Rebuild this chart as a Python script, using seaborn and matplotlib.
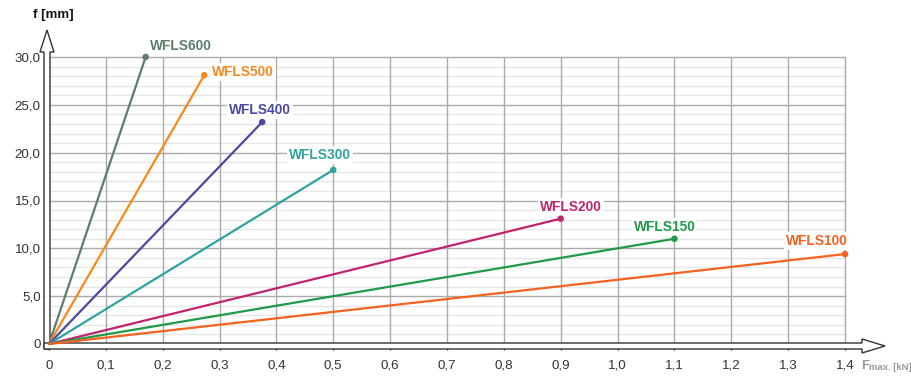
import matplotlib
matplotlib.use("Agg")
import matplotlib.pyplot as plt
import seaborn as sns
import pandas as pd
import numpy as np
from matplotlib.patches import Polygon
from matplotlib.transforms import IdentityTransform

# ---- data ----
series = ["WFLS600", "WFLS500", "WFLS400", "WFLS300", "WFLS200", "WFLS150", "WFLS100"]
fmax_kn = [0.17, 0.273, 0.375, 0.50, 0.90, 1.10, 1.40]
deflection_mm = [30.0, 28.1, 23.2, 18.2, 13.1, 11.0, 9.4]
colors = ["#5f7d6d", "#f7891f", "#4b4aa0", "#2fa39e", "#c1246f", "#1f9a48", "#f5621f"]
x_ticks = [0, 0.1, 0.2, 0.3, 0.4, 0.5, 0.6, 0.7, 0.8, 0.9, 1.0, 1.1, 1.2, 1.3, 1.4]
x_tick_labels = ["0", "0,1", "0,2", "0,3", "0,4", "0,5", "0,6", "0,7", "0,8", "0,9", "1,0", "1,1", "1,2", "1,3", "1,4"]
y_ticks = [0, 5, 10, 15, 20, 25, 30]
y_tick_labels = ["0", "5,0", "10,0", "15,0", "20,0", "25,0", "30,0"]
# label offsets (pixels) relative to end point
label_offsets = [(35, 11), (39, 3), (-2, 12), (-13, 15), (10, 12), (-10, 12), (-28, 13)]

rows = []
for s, x, y in zip(series, fmax_kn, deflection_mm):
    rows.append({"series": s, "F": 0.0, "f": 0.0})
    rows.append({"series": s, "F": x, "f": y})
df = pd.DataFrame(rows)
ends = pd.DataFrame({"series": series, "F": fmax_kn, "f": deflection_mm})
palette = dict(zip(series, colors))

sns.set_theme(style="white")
plt.rcParams["font.family"] = ["Liberation Sans", "DejaVu Sans"]

W, H = 912, 376
fig = plt.figure(figsize=(W / 100, H / 100), dpi=100)
ax = fig.add_axes([49 / W, 32 / H, 796 / W, 287 / H])

# grid
for yv in np.arange(1, 30, 1):
    if yv % 5:
        ax.axhline(yv, color="#e6e6e6", lw=1.0, zorder=0.5)
for yv in y_ticks[1:]:
    ax.axhline(yv, color="#ababab", lw=1.0, zorder=0.6)
for xv in x_ticks[1:]:
    ax.axvline(xv, color="#ababab", lw=1.0, zorder=0.6)

sns.lineplot(data=df, x="F", y="f", hue="series", palette=palette, ax=ax,
             legend=False, linewidth=1.6, zorder=3, estimator=None, sort=False)
sns.scatterplot(data=ends, x="F", y="f", hue="series", palette=palette, ax=ax,
                legend=False, s=22, linewidth=0, zorder=6, clip_on=False)

for line in ax.lines:
    line.set_clip_on(False)

for s, x, y, c, (dx, dy) in zip(series, fmax_kn, deflection_mm, colors, label_offsets):
    ax.annotate(s, (x, y), xytext=(dx, dy), textcoords="offset pixels",
                ha="center", va="center", color=c, fontsize=9.9, fontweight="bold",
                bbox=dict(boxstyle="square,pad=0.15", fc="white", ec="none"), zorder=5)

ax.set_xlim(0, 1.4)
ax.set_ylim(0, 30)
ax.set_xticks(x_ticks)
ax.set_xticklabels(x_tick_labels)
ax.set_yticks(y_ticks)
ax.set_yticklabels(y_tick_labels)
ax.tick_params(axis="x", length=4, width=1, color="#333333", pad=7.5, labelsize=9.6, labelcolor="#333333", direction="out", bottom=True)
ax.tick_params(axis="y", length=4, width=1, color="#333333", pad=2, labelsize=9.6, labelcolor="#333333", direction="out", left=True)
ax.set_xlabel("")
ax.set_ylabel("")
for sp in ax.spines.values():
    sp.set_visible(False)

# axis arrows (pixel coordinates, origin bottom-left)
def py(y):
    return H - y

ec = "#333333"
xarrow = [(44, py(343)), (862, py(343)), (862, py(339)), (885, py(346)),
          (862, py(353)), (862, py(349)), (44, py(349))]
yarrow = [(44, py(349)), (44, py(52)), (40, py(52)), (47, py(30)),
          (54, py(52)), (50, py(52)), (50, py(349))]
for pts in (yarrow, xarrow):
    ax.add_patch(Polygon(pts, closed=True, fc="white", ec=ec, lw=1.0,
                         transform=IdentityTransform(), clip_on=False, zorder=2))

fig.text(33 / W, py(15) / H, "f [mm]", fontsize=9.5, fontweight="bold", color="#111111", va="center", ha="left")
fig.text(861 / W, py(366) / H, "F", fontsize=9.5, fontweight="bold", color="#9a9a9a", va="center", ha="left")
fig.text(869 / W, py(367) / H, "max. [kN]", fontsize=6.8, fontweight="bold", color="#9a9a9a", va="center", ha="left")

fig.savefig("out.png", dpi=100)
